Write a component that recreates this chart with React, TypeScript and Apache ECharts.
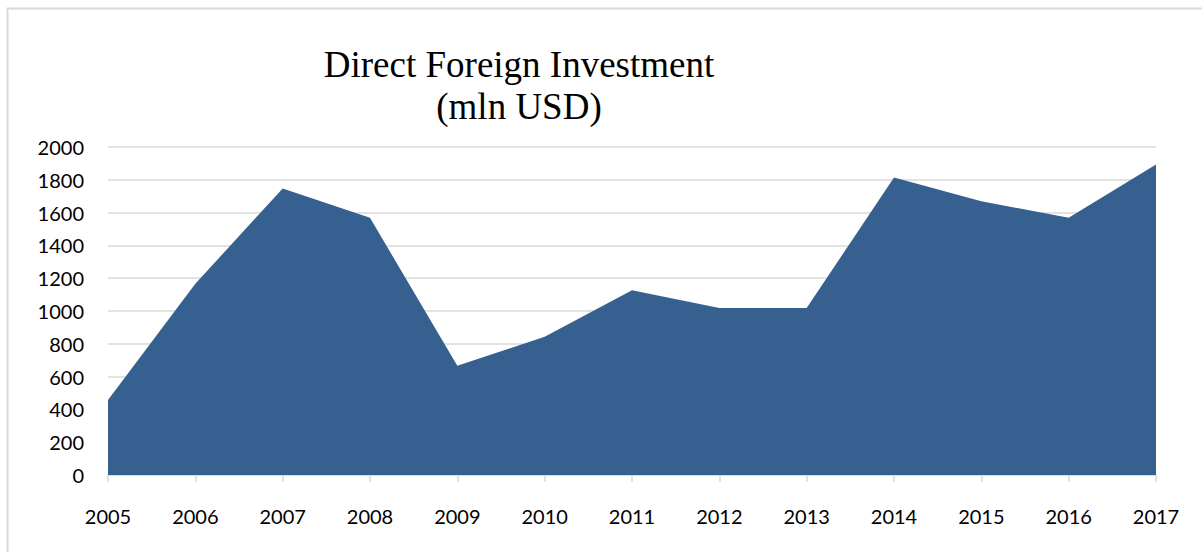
import React, { useEffect, useRef } from "react";
import * as echarts from "echarts";

const years = ["2005","2006","2007","2008","2009","2010","2011","2012","2013","2014","2015","2016","2017"];
const fdiValues = [458, 1166, 1747, 1568, 666, 843, 1126, 1018, 1018, 1814, 1669, 1568, 1893];
const titleLines = ["Direct Foreign Investment", "(mln USD)"];

export default function App() {
  const ref = useRef<HTMLDivElement>(null);
  useEffect(() => {
    if (!ref.current) return;
    const chart = echarts.init(ref.current, undefined, { renderer: "svg" });
    chart.setOption({
      animation: false,
      backgroundColor: "#ffffff",
      title: {
        text: titleLines.join("\n"),
        left: 514,
        top: 38,
        textAlign: "center",
        textStyle: {
          fontFamily: "Liberation Serif, Times New Roman, serif",
          fontSize: 37,
          fontWeight: "normal",
          color: "#000000",
          lineHeight: 42,
        },
      },
      graphic: [
        {
          type: "rect",
          shape: { x: 7.5, y: 8.5, width: 1400, height: 700 },
          style: { fill: "none", stroke: "#d9d9d9", lineWidth: 2 },
          silent: true,
          z: -1,
        },
      ],
      grid: { left: 108, right: 46, top: 147, height: 328, containLabel: false },
      xAxis: {
        type: "category",
        data: years,
        boundaryGap: false,
        axisLine: { show: true, lineStyle: { color: "#d9d9d9", width: 1.5 } },
        axisTick: { show: true, length: 7, lineStyle: { color: "#d9d9d9", width: 1.5 } },
        axisLabel: { fontFamily: "Lato, Open Sans, sans-serif", fontSize: 20, color: "#000000", margin: 31 },
        splitLine: { show: false },
      },
      yAxis: {
        type: "value",
        min: 0,
        max: 2000,
        interval: 200,
        axisLine: { show: false },
        axisTick: { show: false },
        axisLabel: {
          fontFamily: "Lato, Open Sans, sans-serif",
          fontSize: 20,
          color: "#000000",
          margin: 24,
          formatter: (v: number) => String(v),
        },
        splitLine: { show: true, lineStyle: { color: "#d9d9d9", width: 1.5 } },
      },
      series: [
        {
          type: "line",
          data: fdiValues,
          symbol: "none",
          lineStyle: { width: 0, color: "#36608f" },
          areaStyle: { color: "#36608f", opacity: 1 },
          itemStyle: { color: "#36608f" },
          z: 1,
        },
      ],
    });
    return () => chart.dispose();
  }, []);
  return (
    <div
      ref={ref}
      style={{ position: "fixed", left: 0, top: 0, width: 1202, height: 552 }}
    />
  );
}
